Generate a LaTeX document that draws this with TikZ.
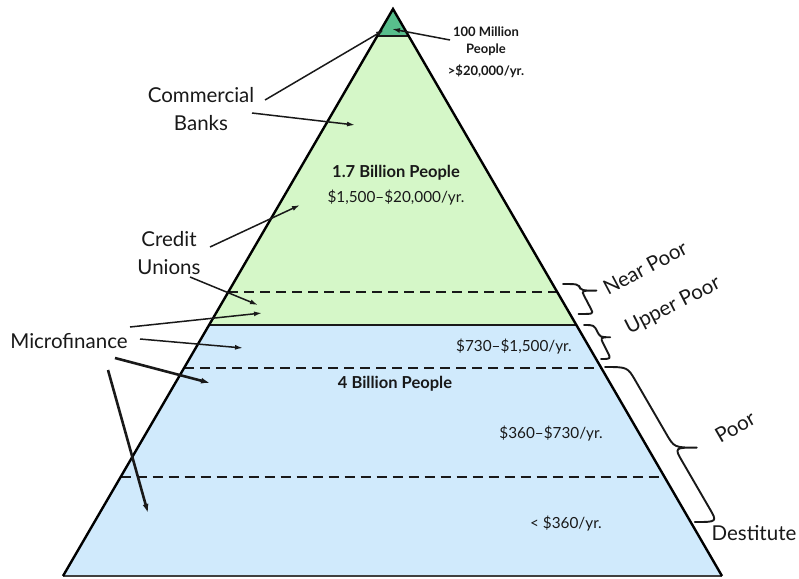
\documentclass[tikz,border=0pt]{standalone}
\usepackage{fontspec}
\setmainfont{Lato}
\usetikzlibrary{arrows.meta}
\definecolor{topgreen}{RGB}{88,190,140}
\definecolor{midgreen}{RGB}{213,247,200}
\definecolor{lowblue}{RGB}{208,234,252}
\definecolor{ink}{RGB}{25,25,25}
% slanted curly brace: x0, y0, height, slant, amplitude, tip fraction, end radius
\newcommand{\slbrace}[7]{%
  \begin{scope}[shift={(#1,#2)}, xslant={-#4}]
    \draw[bracestyle]
      (0,0) .. controls ({0.5*#5},0) .. ({0.5*#5},{#7})
      -- ({0.5*#5},{#6*#3-#7}) .. controls ({0.5*#5},{#6*#3}) .. ({#5},{#6*#3})
      .. controls ({0.5*#5},{#6*#3}) .. ({0.5*#5},{#6*#3+#7})
      -- ({0.5*#5},{#3-#7}) .. controls ({0.5*#5},{#3}) .. (0,{#3});
  \end{scope}}
\begin{document}
\begin{tikzpicture}[x=1pt,y=-1pt,
  lbl/.style={text=ink, font=\fontsize{20.5}{27.5}\selectfont, align=center, inner sep=0pt},
  inlbl/.style={text=ink, font=\fontsize{15.3}{17}\selectfont, inner sep=0pt},
  inbold/.style={text=ink, font=\fontsize{16.5}{17}\selectfont\bfseries, inner sep=0pt},
  toplbl/.style={text=ink, font=\fontsize{13}{17}\selectfont\bfseries, align=center, inner sep=0pt},
  ptr/.style={draw=ink, line width=1.5pt, -{Latex[length=8pt,width=5pt]}},
  hptr/.style={draw=ink, line width=2.6pt, -{Latex[length=9pt,width=6pt]}},
  dashln/.style={draw=ink, line width=2.4pt, dash pattern=on 10pt off 6pt},
  bandln/.style={draw=ink, line width=1.4pt},
  bracestyle/.style={draw=ink, line width=1.9pt, line cap=round, line join=round},
  outline/.style={draw=black, line width=2.4pt, line join=miter}
  ]
\useasboundingbox (0,0) rectangle (799,578);
\fill[white] (0,0) rectangle (799,578);

% key points of the pyramid
\coordinate (apex) at (393,9);
\coordinate (bl) at (63,576);
\coordinate (br) at (722,576);
\coordinate (tl) at (377.3,36);
\coordinate (tr) at (408.7,36);
\coordinate (ml) at (209.1,325);
\coordinate (mr) at (576.3,325);

% bands
\fill[lowblue] (bl) -- (br) -- (mr) -- (ml) -- cycle;
\fill[midgreen] (ml) -- (mr) -- (tr) -- (tl) -- cycle;
\fill[topgreen] (tl) -- (tr) -- (apex) -- cycle;

\draw[bandln] (tl) -- (tr);
\draw[bandln] (ml) -- (mr);

\coordinate (d1l) at (228.3,292); \coordinate (d1r) at (557.1,292);
\coordinate (d2l) at (184.1,368); \coordinate (d2r) at (601.2,368);
\coordinate (d3l) at (120.7,477); \coordinate (d3r) at (664.4,477);
\draw[dashln] (d1l) -- (d1r);
\draw[dashln] (d2l) -- (d2r);
\draw[dashln] (d3l) -- (d3r);

\draw[draw=black!75, line width=1.6pt] (bl) -- (br);
\draw[outline] (bl) -- (apex) -- (br);

% braces
\slbrace{563}{284}{30}{0.52}{30}{0.22}{5}
\slbrace{584}{325}{34}{0.5}{20}{0.36}{7}
\slbrace{605}{367}{155}{0.58}{45}{0.52}{14}

% texts
\node[toplbl] (hm) at (486,41) {100 Million\\People};
\node[toplbl] (hminc) at (486,71) {>\$20,000/yr.};
\node[lbl] (cb) at (201,109) {Commercial\\Banks};
\node[lbl] (cu) at (169,253) {Credit\\Unions};
\node[lbl] (mf) at (69,341) {Microfinance};
\node[inbold] (bp17) at (396,173) {1.7 Billion People};
\node[inlbl] (inc17) at (396,198) {\$1,500–\$20,000/yr.};
\node[inbold] (bp4) at (395,384) {4 Billion People};
\node[inlbl] (incup) at (514,347) {\$730–\$1,500/yr.};
\node[inlbl] (incpoor) at (551,434) {\$360–\$730/yr.};
\node[inlbl] (incdest) at (566,524) {< \$360/yr.};
\node[lbl, rotate=28] (np) at (645,268) {Near Poor};
\node[lbl, rotate=27] (up) at (673,306) {Upper Poor};
\node[lbl, rotate=30] (pr) at (735,427) {Poor};
\node[lbl] (ds) at (754,533) {Destitute};

% arrow end points
\coordinate (hmS) at (450,40);   \coordinate (hmT) at (392,29);
\coordinate (cbS) at (265,100);  \coordinate (cbT) at (384,30);
\coordinate (bkS) at (252,113);  \coordinate (bkT) at (355,125);
\coordinate (crS) at (210,247);  \coordinate (crT) at (300,205);
\coordinate (unS) at (190,277);  \coordinate (unT) at (258,305);
\coordinate (m1S) at (130,327);  \coordinate (m1T) at (262,313);
\coordinate (m2S) at (140,339);  \coordinate (m2T) at (243,348);
\coordinate (m3S) at (115,358);  \coordinate (m3T) at (210,383);
\coordinate (m4S) at (108,370);  \coordinate (m4T) at (148,513);

\draw[ptr] (hmS) -- (hmT);
\draw[ptr] (cbS) -- (cbT);
\draw[ptr] (bkS) -- (bkT);
\draw[ptr] (crS) -- (crT);
\draw[ptr] (unS) -- (unT);
\draw[ptr] (m1S) -- (m1T);
\draw[ptr] (m2S) -- (m2T);
\draw[hptr] (m3S) -- (m3T);
\draw[hptr] (m4S) -- (m4T);
\end{tikzpicture}
\end{document}
